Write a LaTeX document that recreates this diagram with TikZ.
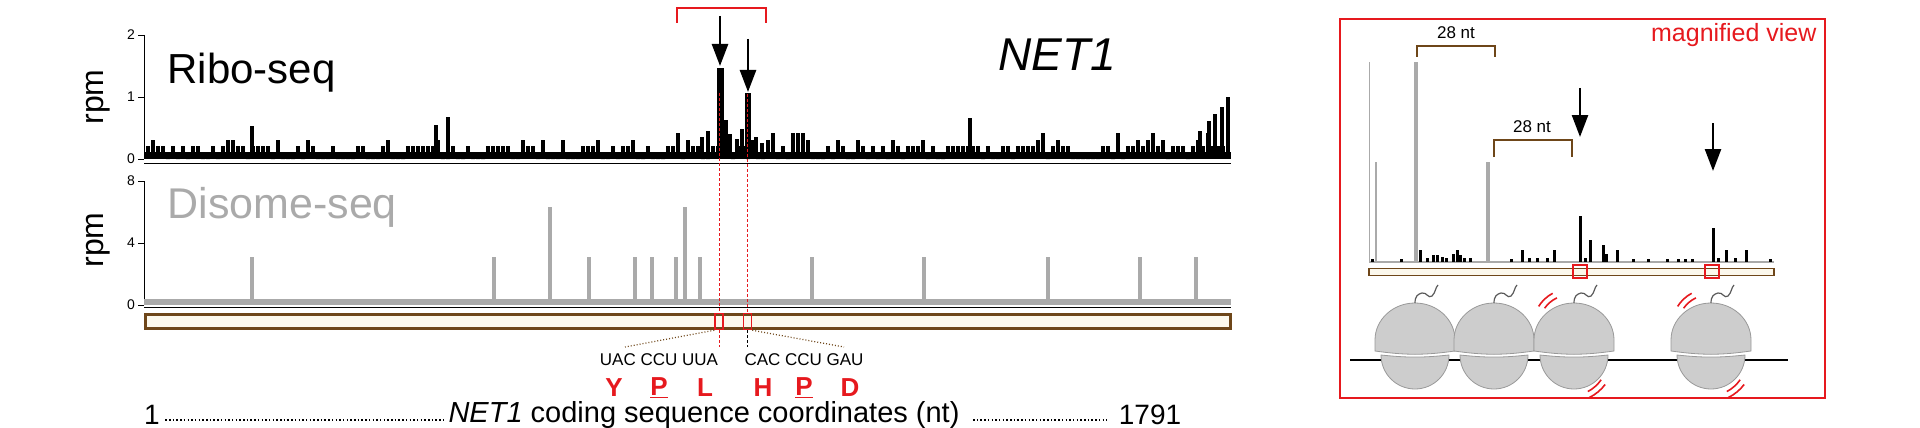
\documentclass[tikz,border=0pt]{standalone}
\usepackage{fontspec}
\setmainfont{Liberation Sans}
\usetikzlibrary{arrows.meta,calc}
\definecolor{brn}{RGB}{110,70,25}
\definecolor{cream}{RGB}{252,248,236}
\definecolor{rd}{RGB}{230,25,30}
\definecolor{gbar}{RGB}{170,170,170}
\definecolor{ribofill}{RGB}{205,205,205}
\tikzset{
  bigarrow/.style={line width=2.5pt,-{Triangle[length=22pt,width=16pt]}},
  tickl/.style={font=\fontsize{14}{14}\selectfont,anchor=east,inner sep=1pt},
  ribo/.style={fill=ribofill,draw=gray!80,line width=0.8pt},
  chain/.style={draw=gray!70!black,line width=1.2pt},
  redarc/.style={draw=rd,line width=1.6pt},
  lead/.style={brn,line width=1.2pt,dash pattern=on 1pt off 2pt},
  guide/.style={line width=1pt,dash pattern=on 3pt off 2pt},
  dots/.style={line width=1.5pt,dash pattern=on 1.5pt off 2.2pt},
}
\begin{document}
\begin{tikzpicture}[x=1pt,y=-1pt]
\useasboundingbox (0,0) rectangle (1920,428);
% ---------- Ribo-seq panel ----------
\draw[line width=1pt] (144,35) -- (144,159);
\foreach \v/\y in {2/35,1/97,0/159}{\draw (138,\y)--(144,\y); \node[tickl] at (136,\y) {\v};}
\node[rotate=90,font=\fontsize{32}{32}\selectfont] (rpm1) at (98,97) {rpm};
\node[anchor=west,font=\fontsize{42}{42}\selectfont] (ribolab) at (164,73) {Ribo-seq};
\node[anchor=west,font=\fontsize{46}{46}\selectfont\itshape] (net1) at (995,55) {NET1};
\fill (144,152) rectangle (1231,159);
\pgfmathsetseed{11}
\foreach \i in {0,...,215}{
  \pgfmathsetmacro\xx{146+\i*5.0}
  \pgfmathsetmacro\r{rnd}
  \pgfmathsetmacro\hh{\r<0.35 ? 0 : (\r<0.8 ? 13 : (\r<0.95 ? 19 : 26))}
  \fill (\xx,159) rectangle ++(4.2,-\hh);
}
\foreach \xx/\hh in {250/33,434/34,446/42,968/41,1207/38,1213/45,1220/52,1226/62,1198/28,700/22,706/28,728/25,735/20,740/30,754/22,760/16}{
  \fill (\xx,159) rectangle ++(4,-\hh);}
\fill (717,159) rectangle (724,68);
\fill (724,159) rectangle (728,120);
\fill (745,159) rectangle (751,93);
\draw[white,line width=1pt] (144,161) -- (1231,161);
\draw[line width=1pt] (144,163) -- (1231,163);
% bracket and arrows
\draw[rd,line width=2.5pt] (677,23) -- (677,8) -- (766,8) -- (766,23);
\coordinate (a1s) at (720,16); \coordinate (a1e) at (720,66);
\coordinate (a2s) at (748,39); \coordinate (a2e) at (748,92);
\draw[bigarrow] (a1s) -- (a1e);
\draw[bigarrow] (a2s) -- (a2e);
% ---------- Disome panel ----------
\draw[line width=1pt] (144,181) -- (144,305);
\foreach \v/\y in {8/181,4/243,0/305}{\draw (138,\y)--(144,\y); \node[tickl] at (136,\y) {\v};}
\node[rotate=90,font=\fontsize{32}{32}\selectfont] (rpm2) at (98,240) {rpm};
\node[anchor=west,font=\fontsize{43}{43}\selectfont,text=gbar] (dislab) at (164,207) {Disome-seq};
\fill[gbar] (144,299) rectangle (1231,305);
\foreach \xx/\tp in {252/257,494/257,550/207,589/257,635/257,652/257,676/257,685/207,700/257,812/257,924/257,1048/257,1140/257,1196/257}{
  \fill[gbar] (\xx-2.2,300) rectangle (\xx+2.2,\tp);}
\draw[line width=1pt] (144,307.5) -- (1231,307.5);
% gene box
\node[draw=brn,line width=3pt,fill=cream,minimum width=1085pt,minimum height=14pt,inner sep=0pt] (gene) at (687.5,321.5) {};
\node[draw=rd,line width=1.5pt,minimum width=8pt,minimum height=16pt,inner sep=0pt] (sq1) at (719,321.5) {};
\node[draw=rd,line width=1.5pt,minimum width=8pt,minimum height=16pt,inner sep=0pt] (sq2) at (747.5,321.5) {};
\coordinate (d1) at (719,93); \coordinate (d1e) at (719,347);
\coordinate (d2) at (747.5,94); \coordinate (d2e) at (747.5,347);
\draw[guide,rd] (d1) -- (sq1.north) (sq1.south) -- (d1e);
\draw[guide,rd] (d2) -- (sq2.north);
\draw[guide,black] (sq2.south) -- (d2e);
\coordinate (l1) at (625,347); \coordinate (l2) at (844,347);
\draw[lead] (sq1.south west) -- (l1);
\draw[lead] (sq2.south east) -- (l2);
\node[font=\fontsize{17}{17}\selectfont] (cod1) at (659,360) {UAC CCU UUA};
\node[font=\fontsize{17}{17}\selectfont] (cod2) at (804,360) {CAC CCU GAU};
\foreach \n/\xx/\t in {Y/614/Y,P/659/\underline{P},L/705/L,H/763/H,P2/804/\underline{P},D/850/D}{
  \node[text=rd,font=\fontsize{26}{26}\selectfont\bfseries] (aa\n) at (\xx,388) {\t};}
% bottom axis
\node[font=\fontsize{28}{28}\selectfont] (one) at (152,415) {1};
\node[anchor=west,font=\fontsize{29}{29}\selectfont] (axlab) at (445,415) {\textit{NET1} coding sequence coordinates (nt)};
\node[font=\fontsize{28}{28}\selectfont] (end) at (1150,415) {1791};
\draw[dots] ($(one.east)+(2,5)$) -- ($(axlab.west)+(0,5)$);
\draw[dots] ($(axlab.east)+(10,5)$) -- ($(end.west)+(-8,5)$);
% ---------- magnified view ----------
\node[draw=rd,line width=2pt,minimum width=485pt,minimum height=379pt,inner sep=0pt] (mag) at (1582.5,208.5) {};
\node[anchor=north east,text=rd,font=\fontsize{25}{25}\selectfont] (magl) at (1820,20) {magnified view};
\draw[gbar,line width=1.2pt] (1369,262) -- (1774,262);
\draw[gbar,line width=1.2pt] (1369.5,262) -- (1369.5,62);
\draw[gbar,line width=2.5pt] (1376,262) -- (1376,162);
\draw[gbar,line width=3.5pt] (1416,262) -- (1416,62);
\draw[gbar,line width=3.5pt] (1488,262) -- (1488,162);
\foreach \xx/\tp in {1372/259,1401/259,1420/250,1427/258,1433/255,1437/255,1442/257,1446/258,1453/254,1457/250,1460/255,1464/258,1470/258,1511/259,1522/250,1529/258,1537/258,1547/258,1554/250,1585/258,1590/240,1603/245,1606/254,1617/250,1633/259,1648/259,1667/259,1678/259,1685/259,1692/259,1718/258,1726/250,1735/258,1746/250,1770/259}{
  \fill (\xx-1.5,262) rectangle (\xx+1.5,\tp);}
\fill (1578.5,262) rectangle (1581.5,216);
\fill (1711.5,262) rectangle (1714.5,228);
\draw[brn,line width=1.8pt] (1417,57) -- (1417,46) -- (1495,46) -- (1495,57);
\node[font=\fontsize{17}{17}\selectfont] (nt1) at (1456,33) {28 nt};
\draw[brn,line width=1.8pt] (1494,157) -- (1494,140) -- (1572,140) -- (1572,157);
\node[font=\fontsize{17}{17}\selectfont] (nt2) at (1532,127) {28 nt};
\coordinate (m1s) at (1580,88); \coordinate (m1e) at (1580,137);
\coordinate (m2s) at (1713,123); \coordinate (m2e) at (1713,171);
\draw[bigarrow] (m1s) -- (m1e);
\draw[bigarrow] (m2s) -- (m2e);
\node[draw=brn,line width=1.3pt,fill=cream,minimum width=405pt,minimum height=7pt,inner sep=0pt] (mgene) at (1571.5,272) {};
\node[draw=rd,line width=1.3pt,minimum width=14pt,minimum height=13pt,inner sep=0pt] (ms1) at (1580,271.5) {};
\node[draw=rd,line width=1.3pt,minimum width=14pt,minimum height=13pt,inner sep=0pt] (ms2) at (1712,271.5) {};
% mRNA and ribosomes
\coordinate (mr1) at (1350,360); \coordinate (mr2) at (1788,360);
\draw[line width=1.3pt] (mr1) -- (mr2);
\foreach \cx in {1415,1494,1574,1711}{
  \draw[ribo] (\cx-40,351) -- (\cx-40,340) arc[start angle=180,end angle=360,x radius=40,y radius=37] -- (\cx+40,351) to[bend left=8] cycle;
  \draw[ribo] (\cx-34,355) arc[start angle=180,end angle=0,x radius=34,y radius=34] to[bend left=6] cycle;
  \draw[chain] (\cx,303) .. controls (\cx,296) and (\cx+3,294) .. (\cx+7,293) .. controls (\cx+12,292) and (\cx+13,299) .. (\cx+17,296) .. controls (\cx+21,292) and (\cx+20,288) .. (\cx+23,285);
}
\foreach \cx in {1570,1709}{
  \draw[redarc] ($(\cx,326)+(215:31)$) arc[start angle=215,end angle=245,radius=31];
  \draw[redarc] ($(\cx,326)+(212:37)$) arc[start angle=212,end angle=242,radius=37];
  \draw[redarc] ($(\cx,358)+(35:38)$) arc[start angle=35,end angle=62,radius=38];
  \draw[redarc] ($(\cx,358)+(37:44)$) arc[start angle=37,end angle=64,radius=44];
}
\end{tikzpicture}
\end{document}
